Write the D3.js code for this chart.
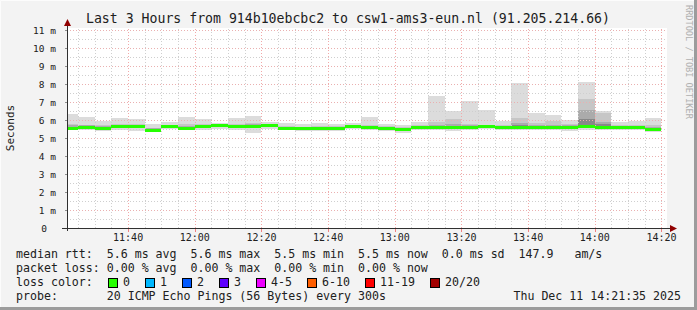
<!DOCTYPE html>
<html>
<head>
<meta charset="utf-8">
<script src="https://cdn.jsdelivr.net/npm/d3@7/dist/d3.min.js"></script>
<style>
  body { margin: 0; background: #f3f3f3; }
  svg { display: block; font-family: "DejaVu Sans Mono", monospace; }
  text { white-space: pre; }
</style>
</head>
<body>
<svg id="chart" width="697" height="310"></svg>
<script>
// 5 minute rounds, labelled by the end of each round
const binEnds = ["11:25","11:30","11:35","11:40","11:45","11:50","11:55","12:00","12:05","12:10","12:15","12:20",
                 "12:25","12:30","12:35","12:40","12:45","12:50","12:55","13:00","13:05","13:10","13:15","13:20",
                 "13:25","13:30","13:35","13:40","13:45","13:50","13:55","14:00","14:05","14:10","14:15","14:20"];

// median rtt per round (ms)
const median   = [5.58,5.61,5.57,5.66,5.67,5.47,5.66,5.57,5.67,5.70,5.66,5.69,5.70,5.55,5.53,5.53,5.53,5.64,
                  5.60,5.55,5.52,5.60,5.60,5.60,5.62,5.66,5.60,5.60,5.62,5.62,5.62,5.66,5.62,5.62,5.62,5.50];
// smoke: spread of the 20 pings per round (ms)
const smokeMax = [6.33,6.17,5.94,6.11,6.06,5.76,5.89,6.17,6.06,5.85,6.11,6.22,5.89,5.81,5.78,5.81,5.78,5.85,
                  6.17,5.78,5.72,5.91,7.35,6.52,7.06,6.56,5.96,8.07,6.41,6.28,6.02,8.11,6.52,5.91,5.96,6.09];
const smokeP90 = [5.80,5.75,5.72,5.80,5.80,5.58,5.75,5.78,5.80,5.78,5.80,5.85,5.78,5.65,5.62,5.65,5.65,5.72,
                  5.75,5.65,5.62,5.72,5.90,6.04,5.80,5.75,5.75,6.09,5.85,5.94,5.80,7.18,6.37,5.72,5.75,5.75];
const smokeP75 = [5.70,5.70,5.65,5.74,5.75,5.54,5.72,5.66,5.75,5.75,5.74,5.78,5.75,5.60,5.58,5.60,5.60,5.69,
                  5.66,5.60,5.57,5.66,5.75,5.78,5.70,5.72,5.66,5.85,5.72,5.75,5.70,6.56,5.90,5.68,5.68,5.60];
const smokeP60 = [5.63,5.66,5.61,5.70,5.71,5.51,5.69,5.61,5.71,5.73,5.70,5.73,5.73,5.58,5.56,5.57,5.57,5.67,
                  5.63,5.58,5.55,5.63,5.68,5.68,5.66,5.69,5.63,5.72,5.66,5.68,5.66,6.04,5.78,5.65,5.65,5.55];
const smokeP40 = [5.52,5.55,5.52,5.60,5.58,5.42,5.60,5.52,5.60,5.64,5.60,5.58,5.64,5.50,5.48,5.48,5.48,5.58,
                  5.54,5.49,5.45,5.54,5.54,5.53,5.56,5.60,5.54,5.54,5.56,5.55,5.55,5.58,5.55,5.56,5.56,5.42];
const smokeMin = [5.44,5.42,5.40,5.45,5.38,5.33,5.50,5.42,5.45,5.52,5.47,5.28,5.52,5.42,5.40,5.38,5.40,5.48,
                  5.42,5.40,5.26,5.42,5.42,5.38,5.45,5.48,5.42,5.42,5.45,5.42,5.38,5.42,5.42,5.45,5.45,5.31];

const yTicks = [0,1,2,3,4,5,6,7,8,9,10,11];
const yLabels = ["0","1 m","2 m","3 m","4 m","5 m","6 m","7 m","8 m","9 m","10 m","11 m"];
const xLabels = ["11:40","12:00","12:20","12:40","13:00","13:20","13:40","14:00","14:20"];

const lossLabels = ["0","1","2","3","4-5","6-10","11-19","20/20"];
const lossColors = ["#26ff00","#00b8ff","#0059ff","#5e00ff","#ee00ff","#ff5e00","#ff0000","#a10000"];

const legendLines = [
  "median rtt:  5.6 ms avg  5.6 ms max  5.5 ms min  5.5 ms now  0.0 ms sd  147.9   am/s",
  "packet loss: 0.00 % avg  0.00 % max  0.00 % min  0.00 % now"
];
const probeLine = "probe:       20 ICMP Echo Pings (56 Bytes) every 300s";
const stampLine = "Thu Dec 11 14:21:35 2025";
const title = "Last 3 Hours from 914b10ebcbc2 to csw1-ams3-eun.nl (91.205.214.66)";

const svg = d3.select("#chart");
const W = 697, H = 310;
const parseT = d3.timeParse("%H:%M:%S");
const tStart = parseT("11:21:40"), tEnd = parseT("14:21:40");
const plot = {left: 67, right: 667, top: 28, bottom: 228};

const x = d3.scaleTime().domain([tStart, tEnd]).range([plot.left, plot.right]);
const y = d3.scaleLinear().domain([0, 11]).range([plot.bottom, 30]);

// frame
svg.append("rect").attr("width", W).attr("height", H).attr("fill", "#f3f3f3");
svg.append("path").attr("d", `M0.5,${H} V0.5 H${W}`).attr("stroke", "#fcfcfc").attr("fill", "none");
svg.append("path").attr("d", `M0,${H-1.5} H${W-1.5} V0`).attr("stroke", "#9c9c9c").attr("stroke-width", 3).attr("fill", "none");

svg.append("rect")
  .attr("x", plot.left).attr("y", plot.top)
  .attr("width", plot.right - plot.left).attr("height", plot.bottom - plot.top)
  .attr("fill", "#ffffff");

// rounds
const bins = binEnds.map((e, i) => {
  const end = parseT(e + ":00");
  const start = d3.max([d3.timeMinute.offset(end, -5), tStart]);
  return {start, end, med: median[i], max: smokeMax[i], p90: smokeP90[i], p75: smokeP75[i],
          p60: smokeP60[i], p40: smokeP40[i], min: smokeMin[i]};
});

const smoke = svg.append("g").attr("shape-rendering", "crispEdges");
const bands = [
  {lo: "min", hi: "max", color: "#dcdcdc"},
  {lo: "p40", hi: "p90", color: "#c6c6c6"},
  {lo: "p40", hi: "p75", color: "#ababab"},
  {lo: "p40", hi: "p60", color: "#888888"}
];
bands.forEach(b => {
  smoke.selectAll(null).data(bins).enter().append("rect")
    .attr("x", d => x(d.start))
    .attr("width", d => x(d.end) - x(d.start))
    .attr("y", d => y(d[b.hi]))
    .attr("height", d => y(d[b.lo]) - y(d[b.hi]))
    .attr("fill", b.color);
});

// grid
const grid = svg.append("g").attr("fill", "none").attr("stroke-dasharray", "1,2");
const minorX = d3.timeMinute.every(5).range(d3.timeMinute.offset(tStart, 1), tEnd);
grid.selectAll(".vminor").data(minorX.filter(t => t.getMinutes() % 20 !== 0)).enter().append("line")
  .attr("x1", d => Math.round(x(d)) + 0.5).attr("x2", d => Math.round(x(d)) + 0.5)
  .attr("y1", plot.bottom).attr("y2", plot.top)
  .attr("stroke", "#cfcfcf");
const hMinor = d3.range(0.5, 11.5, 1);
grid.selectAll(".hminor").data(hMinor).enter().append("line")
  .attr("x1", plot.left).attr("x2", plot.right)
  .attr("y1", d => Math.round(y(d)) + 0.5).attr("y2", d => Math.round(y(d)) + 0.5)
  .attr("stroke", "#cfcfcf");
const majorX = xLabels.map(s => parseT(s + ":00"));
grid.selectAll(".vmajor").data(majorX).enter().append("line")
  .attr("x1", d => Math.round(x(d)) + 0.5).attr("x2", d => Math.round(x(d)) + 0.5)
  .attr("y1", plot.bottom).attr("y2", plot.top)
  .attr("stroke", "#f2a8a8");
grid.selectAll(".hmajor").data(yTicks.slice(1)).enter().append("line")
  .attr("x1", plot.left).attr("x2", plot.right)
  .attr("y1", d => Math.round(y(d)) + 0.5).attr("y2", d => Math.round(y(d)) + 0.5)
  .attr("stroke", "#eab0b0");

// median line
svg.append("g").attr("shape-rendering", "crispEdges")
  .selectAll("rect").data(bins).enter().append("rect")
  .attr("x", d => x(d.start))
  .attr("width", d => x(d.end) - x(d.start))
  .attr("y", d => Math.round(y(d.med)) - 1)
  .attr("height", 3)
  .attr("fill", lossColors[0]);

// axes
const ax = svg.append("g").attr("shape-rendering", "crispEdges");
ax.append("line").attr("x1", plot.left + 0.5).attr("x2", plot.left + 0.5)
  .attr("y1", plot.bottom + 3).attr("y2", 24).attr("stroke", "#303030");
ax.append("line").attr("x1", plot.left - 5).attr("x2", 672)
  .attr("y1", plot.bottom + 0.5).attr("y2", plot.bottom + 0.5).attr("stroke", "#303030");
ax.selectAll(".ytick").data(yTicks.slice(1)).enter().append("line")
  .attr("x1", plot.left - 2).attr("x2", plot.left)
  .attr("y1", d => Math.round(y(d)) + 0.5).attr("y2", d => Math.round(y(d)) + 0.5)
  .attr("stroke", "#909090");
ax.selectAll(".xtick").data(majorX).enter().append("line")
  .attr("x1", d => Math.round(x(d)) + 0.5).attr("x2", d => Math.round(x(d)) + 0.5)
  .attr("y1", plot.bottom + 1).attr("y2", plot.bottom + 4)
  .attr("stroke", "#f08080");
svg.append("path").attr("d", `M${plot.left + 0.5},19 L${plot.left - 3},26 L${plot.left + 4},26 Z`).attr("fill", "#900000");
svg.append("path").attr("d", `M677,${plot.bottom + 0.5} L670,${plot.bottom - 3} L670,${plot.bottom + 4} Z`).attr("fill", "#900000");

// axis labels
svg.append("g").attr("font-size", "9.5px").attr("fill", "#202020").attr("text-anchor", "end")
  .selectAll("text").data(yTicks).enter().append("text")
  .attr("x", d => d === 0 ? 47 : 56)
  .attr("y", d => y(d) + 3.5)
  .text((d, i) => yLabels[i]);
svg.append("g").attr("font-size", "10px").attr("fill", "#202020").attr("text-anchor", "middle")
  .selectAll("text").data(majorX).enter().append("text")
  .attr("x", d => x(d))
  .attr("y", 241)
  .text((d, i) => xLabels[i]);

svg.append("text")
  .attr("transform", `translate(14,${(plot.top + plot.bottom) / 2}) rotate(-90)`)
  .attr("text-anchor", "middle").attr("font-size", "11px").attr("fill", "#202020")
  .text("Seconds");

svg.append("text")
  .attr("x", 348).attr("y", 23).attr("text-anchor", "middle")
  .attr("font-size", "13.2px").attr("fill", "#202020")
  .text(title);

svg.append("text")
  .attr("transform", "translate(686,5) rotate(90)")
  .attr("font-size", "8.6px").attr("fill", "#b0b0b0")
  .text("RRDTOOL / TOBI OETIKER");

// legend
const leg = svg.append("g").attr("font-size", "11.6px").attr("fill", "#202020");
leg.selectAll(".line").data(legendLines).enter().append("text")
  .attr("x", 16).attr("y", (d, i) => 258 + i * 14)
  .text(d => d);
leg.append("text").attr("x", 16).attr("y", 286).text("loss color:");
leg.append("text").attr("x", 16).attr("y", 300).text(probeLine);
leg.append("text").attr("x", 681).attr("y", 300).attr("text-anchor", "end").text(stampLine);

let bx = 108;
lossLabels.forEach((lab, i) => {
  leg.append("rect").attr("x", bx + 0.5).attr("y", 278.5).attr("width", 9).attr("height", 9)
    .attr("fill", lossColors[i]).attr("stroke", "#000").attr("shape-rendering", "crispEdges");
  leg.append("text").attr("x", bx + 15).attr("y", 286).text(lab);
  bx += 30 + 7 * lab.length;
});
</script>
</body>
</html>
